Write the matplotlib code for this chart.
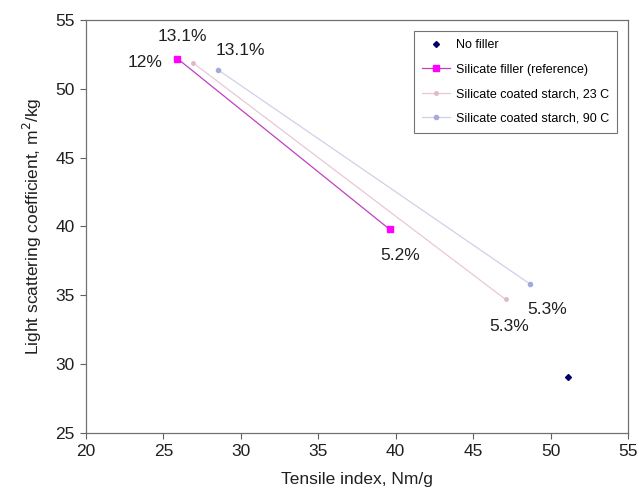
import matplotlib
matplotlib.use("Agg")
import matplotlib.pyplot as plt

plt.rcParams['font.family'] = ['Liberation Sans', 'DejaVu Sans']

# Data (tensile index, light scattering coefficient)
no_filler_x = [51.1]
no_filler_y = [29.1]
silicate_x = [25.9, 39.6]
silicate_y = [52.2, 39.8]
starch23_x = [26.9, 47.1]
starch23_y = [51.9, 34.7]
starch90_x = [28.5, 48.7]
starch90_y = [51.4, 35.8]

labels_text = ["12%", "13.1%", "13.1%", "5.2%", "5.3%", "5.3%"]
labels_x = [23.8, 26.2, 30.0, 40.3, 49.8, 47.3]
labels_y = [51.9, 53.8, 52.8, 37.9, 34.0, 32.7]

fig = plt.figure(figsize=(6.39, 4.94), dpi=100)
ax = fig.add_axes([0.1346, 0.1235, 0.8482, 0.836])

ax.plot(no_filler_x, no_filler_y, linestyle='none', marker='D', markersize=3,
        color='#000066', label='No filler')
ax.plot(silicate_x, silicate_y, color='#c040c0', lw=0.9, marker='s', markersize=4.5,
        markerfacecolor='#ff00ff', markeredgecolor='#ff00ff', label='Silicate filler (reference)')
ax.plot(starch23_x, starch23_y, color='#e8c8d8', lw=0.9, marker='o', markersize=2.5,
        markerfacecolor='#e0b8cc', markeredgecolor='#e0b8cc', label='Silicate coated starch, 23 C')
ax.plot(starch90_x, starch90_y, color='#d0d0e8', lw=0.9, marker='o', markersize=3,
        markerfacecolor='#a8a8e0', markeredgecolor='#a8a8e0', label='Silicate coated starch, 90 C')

for t, x, y in zip(labels_text, labels_x, labels_y):
    ax.text(x, y, t, fontsize=12.5, ha='center', va='center', color='#202020')

ax.set_xlim(20, 55)
ax.set_ylim(25, 55)
ax.set_xticks(range(20, 56, 5))
ax.set_yticks(range(25, 56, 5))
ax.tick_params(direction='out', length=4, width=0.8, color='#606060', labelsize=12.5,
               labelcolor='#202020', pad=4)
for s in ax.spines.values():
    s.set_color('#707070')
    s.set_linewidth(0.9)

ax.set_xlabel('Tensile index, Nm/g', fontsize=12.5, color='#202020', labelpad=9)
ax.set_ylabel('Light scattering coefficient, m$^2$/kg', fontsize=12.5, color='#202020', labelpad=8)

leg = ax.legend(loc='upper right', bbox_to_anchor=(0.992, 0.988), fontsize=9,
                frameon=True, fancybox=False, edgecolor='#505050', handlelength=2.2,
                borderpad=0.65, labelspacing=1.0, handletextpad=0.5)
leg.get_frame().set_linewidth(0.8)

fig.savefig('out.png', dpi=100)
